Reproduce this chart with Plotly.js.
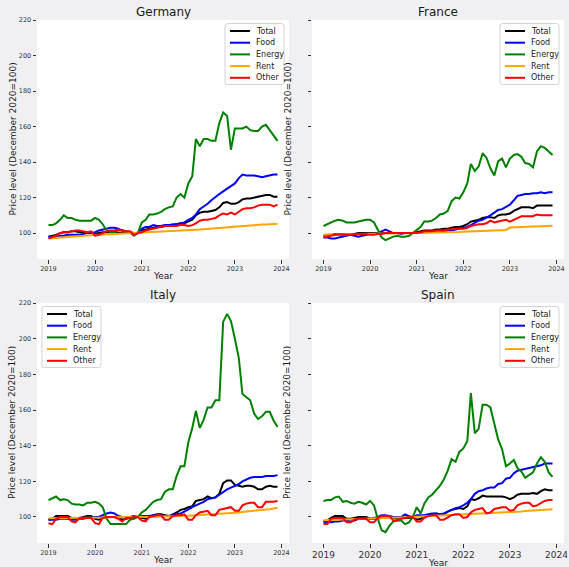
<!DOCTYPE html>
<html>
<head>
<meta charset="utf-8">
<script src="https://cdn.plot.ly/plotly-3.0.1.min.js"></script>
<style>
  html, body { margin: 0; padding: 0; background: #f0f0f2; }
  #chart { width: 569px; height: 567px; }
</style>
</head>
<body>
<div id="chart"></div>
<script>
// Monthly price indices, Jan 2019 - Dec 2023 (December 2020 = 100)
const years = [2019, 2020, 2021, 2022, 2023];
const yearTicks = ['2019', '2020', '2021', '2022', '2023', '2024'];
const seriesNames = ['Total', 'Food', 'Energy', 'Rent', 'Other'];
const seriesColors = ['#000000', '#0000ff', '#008000', '#ffa500', '#ff0000'];
const countries = ['Germany', 'France', 'Italy', 'Spain'];

// Germany
const deTotal = [98, 98.5, 99, 100, 100.5, 100.5, 101, 101, 100.5, 100.5, 100, 100.5,
  99.5, 100, 100.5, 100.5, 100.5, 100.5, 100, 100, 100, 100, 99.5, 100,
  101.5, 102, 102.5, 103, 103.5, 103.5, 104, 104.5, 104.5, 105, 105.5, 105.5,
  106.5, 107.5, 110, 111.5, 112, 112, 112.5, 113, 114.5, 117, 117.5, 116.5,
  116.5, 117.5, 119, 119.5, 119.5, 120, 120.5, 121, 121.5, 121.5, 120.5, 120.5];
const deFood = [98, 98, 98.5, 98.5, 98.5, 99, 99, 99, 99, 99.5, 100, 100,
  100.5, 101.5, 102, 102.5, 103, 103, 102.5, 101.5, 101, 100.5, 100, 100,
  102.5, 103.5, 103.5, 104.5, 104, 104, 104.5, 104.5, 105, 105, 105.5, 106,
  107.5, 108.5, 110.5, 113.5, 115, 116.5, 118.5, 120, 122, 123.5, 125, 126,
  128, 131, 133, 132.5, 132.5, 132.5, 132, 131.5, 132, 132.5, 133, 133];
const deEnergy = [104.5, 104.5, 105.5, 107.5, 110, 108.5, 108.5, 107.5, 107, 107, 107, 107,
  108.5, 107.5, 105, 101.5, 100.5, 100.5, 101.5, 101.5, 101, 100.5, 98.5, 100,
  106, 107.5, 110.5, 110.5, 111, 112, 113.5, 114.5, 115, 120, 122, 120,
  128, 132, 153, 149, 153, 153, 152, 152, 162, 168, 166, 147,
  159, 159, 159, 160, 158, 157.5, 157.5, 160, 161, 158, 155, 152];
const deRent = [97.0, 97.2, 97.4, 97.5, 97.7, 97.9, 98.0, 98.2, 98.3, 98.5, 98.6, 98.8,
  98.9, 99.0, 99.1, 99.2, 99.3, 99.4, 99.5, 99.6, 99.7, 99.8, 99.9, 100.0,
  100.1, 100.2, 100.3, 100.4, 100.5, 100.6, 100.7, 100.8, 100.9, 101.0, 101.1, 101.3,
  101.4, 101.6, 101.8, 102.0, 102.2, 102.4, 102.6, 102.8, 103.0, 103.2, 103.4, 103.6,
  103.7, 103.9, 104.0, 104.2, 104.3, 104.5, 104.6, 104.8, 104.9, 105.0, 105.2, 105.3];
const deOther = [97, 98, 98.5, 100, 100.5, 100.5, 101, 101.5, 101.5, 101, 100.5, 101,
  98.5, 99, 100, 101, 101.5, 101.5, 102, 101.5, 101, 101, 99, 100,
  100.5, 101.5, 102, 102.5, 103, 103.5, 104, 104, 104, 104, 104.5, 104.5,
  104, 104.5, 105.5, 107, 107.5, 107.5, 108, 108.5, 110, 111, 110.5, 111.5,
  110.5, 112, 113.5, 114, 114, 114.5, 115.5, 116, 116, 116, 115, 116];

// France
const frTotal = [98.5, 99, 99, 99.5, 99.5, 99.5, 99.5, 99.5, 99.5, 100, 100, 100,
  100, 100, 100, 100, 100, 100, 100, 100, 100, 100, 100, 100,
  100.5, 101, 101.5, 101.5, 101.5, 102, 102, 102.5, 102.5, 103, 103.5, 103.5,
  104, 105, 106.5, 107, 107.5, 108.5, 109, 109, 108.5, 110, 110.5, 110.5,
  111, 112.5, 113.5, 114.5, 114.5, 114.5, 114, 115.5, 115.5, 115.5, 115.5, 115.5];
const frFood = [97.5, 97.5, 97, 97, 97.5, 98, 98.5, 99, 98.5, 98, 98.5, 99,
  99.5, 99.5, 100, 101, 102, 101, 100, 100, 99.5, 100, 100, 100,
  100, 100, 100.5, 100.5, 101, 101.5, 101.5, 101, 101.5, 101.5, 102, 102.5,
  103, 103.5, 104.5, 106, 107, 107.5, 108.5, 110, 111.5, 113, 113.5, 114.5,
  116, 118.5, 121, 121.5, 122, 122, 122.5, 122.5, 123, 122.5, 123, 123];
const frEnergy = [104, 105, 106, 107, 107.5, 107, 106, 106, 106, 106.5, 107, 107.5,
  107.5, 106, 102, 97.5, 96, 97, 98, 98.5, 98, 98, 98.5, 100,
  101.5, 103.5, 106.5, 106.5, 107, 108.5, 110.5, 111, 112.5, 118, 120, 119.5,
  123, 128, 139, 135, 137.5, 145, 142.5, 136.5, 132.5, 140.5, 142, 137,
  142, 144, 144.5, 143, 139.5, 139, 137, 146, 149, 148, 146, 144];
const frRent = [99.0, 99.1, 99.2, 99.3, 99.3, 99.4, 99.4, 99.5, 99.5, 99.6, 99.6, 99.7,
  99.7, 99.7, 99.8, 99.8, 99.8, 99.8, 99.9, 99.9, 99.9, 99.9, 100.0, 100.0,
  100.1, 100.1, 100.2, 100.2, 100.3, 100.3, 100.4, 100.4, 100.5, 100.5, 100.6, 100.6,
  100.7, 100.8, 100.9, 101.0, 101.1, 101.2, 101.3, 101.4, 101.5, 101.6, 101.7, 101.8,
  103.1, 103.2, 103.3, 103.4, 103.5, 103.6, 103.7, 103.8, 103.9, 104.0, 104.1, 104.2];
const frOther = [97.5, 98, 98.5, 99, 99, 99, 99, 99, 99.5, 99.5, 99.5, 99.5,
  99, 99, 99.5, 99.5, 100, 100, 100, 100, 100, 100, 100, 100,
  100, 100.5, 101, 101, 101, 101.5, 101.5, 101.5, 102, 102, 102.5, 102.5,
  102.5, 103, 104, 104.5, 105, 105, 105.5, 107, 106, 106.5, 107, 107.5,
  106.5, 107.5, 108.5, 109.5, 109.5, 109.5, 109.5, 110.5, 110, 110, 110, 110];

// Italy
const itTotal = [98.5, 99, 100.5, 100.5, 100.5, 100.5, 99.5, 99.5, 99.5, 100, 100.5, 100.5,
  99, 98.5, 99.5, 100, 100, 100, 99.5, 98.5, 99, 99.5, 100, 100,
  99.5, 99, 100, 101, 101.5, 101.5, 101, 100.5, 101.5, 102.5, 104, 104.5,
  105.5, 106, 109, 109.5, 110, 111.5, 110.5, 111, 113, 119, 120.5, 120.5,
  118, 117.5, 117, 117.5, 117.5, 117, 115.5, 115.5, 117, 117.5, 117, 117];
const itFood = [98.5, 98.5, 98.5, 99, 99, 99, 98.5, 98.5, 99, 99, 99.5, 99.5,
  100, 100, 101, 102, 102.5, 102, 100.5, 100, 99.5, 100, 100.5, 100,
  100.5, 100.5, 100.5, 101, 101, 101, 100.5, 100.5, 101, 101.5, 102, 103,
  104.5, 105.5, 106.5, 107.5, 108.5, 110, 110.5, 111, 112.5, 114, 115.5, 116.5,
  117.5, 118.5, 120, 121, 122, 122.5, 122.5, 122.5, 123, 123, 123, 123.5];
const itEnergy = [109.5, 110.5, 111.5, 109.5, 110, 109.5, 107.5, 107, 107, 106.5, 108, 108,
  108.5, 107.5, 105.5, 99, 96, 96, 96, 96, 96, 98.5, 99, 100,
  102.5, 104, 106, 108.5, 109.5, 110, 114, 115.5, 115.5, 123, 128.5, 128.5,
  142, 150, 159.5, 150, 154.5, 161.5, 161.5, 165.5, 165.5, 209.5, 214, 210,
  200, 189, 169, 167, 165.5, 158, 155, 156.5, 159, 159, 154, 150.5];
const itRent = [99.3, 99.3, 99.4, 99.4, 99.4, 99.5, 99.5, 99.5, 99.6, 99.6, 99.6, 99.7,
  99.7, 99.7, 99.7, 99.8, 99.8, 99.8, 99.8, 99.9, 99.9, 99.9, 99.9, 100.0,
  100.0, 100.1, 100.1, 100.2, 100.2, 100.3, 100.3, 100.4, 100.4, 100.5, 100.5, 100.6,
  100.7, 100.8, 100.9, 101.0, 101.1, 101.2, 101.4, 101.5, 101.6, 101.8, 101.9, 102.0,
  102.2, 102.5, 102.8, 103.1, 103.4, 103.6, 103.8, 104.0, 104.2, 104.4, 104.7, 105.2];
const itOther = [96.5, 96, 99, 100, 100, 100, 97.5, 97, 99.5, 99.5, 99.5, 99.5,
  96.5, 96, 99.5, 100, 100, 100, 99, 97.5, 99.5, 99.5, 100, 100,
  98, 97.5, 100, 100.5, 101, 101, 98.5, 98.5, 100.5, 101, 101, 101.5,
  98.5, 98.5, 101, 102.5, 103, 103.5, 101, 101, 104, 104.5, 105, 105.5,
  103.5, 103.5, 106.5, 107.5, 108, 108, 105.5, 105.5, 108.5, 108.5, 108.5, 109];

// Spain
const esTotal = [97.5, 98, 99.5, 100.5, 100.5, 100.5, 99, 99, 99.5, 100, 100, 100,
  99, 99, 99, 99.5, 100, 100, 99.5, 99, 99.5, 99.5, 99.5, 100,
  98.5, 99, 100.5, 101, 101.5, 102, 101.5, 101.5, 103, 104, 104.5, 105,
  104.5, 106, 110, 109.5, 110.5, 112, 111.5, 111.5, 111.5, 111.5, 111.5, 111,
  110, 111, 112.5, 113, 113, 113, 113.5, 113, 114.5, 115.5, 115, 115];
const esFood = [97, 97, 97, 97.5, 97.5, 98, 98, 97.5, 98, 99, 99, 99,
  99, 99.5, 100, 101, 101, 100.5, 100, 100, 100, 101.5, 100.5, 100,
  101, 101, 101, 101.5, 102, 102, 101.5, 102, 103, 104, 105, 105.5,
  106.5, 108, 110, 113, 114.5, 115, 116, 116.5, 116.5, 118.5, 119, 121.5,
  122, 124.5, 126, 126.5, 127, 127.5, 128, 128.5, 129, 130, 130, 130];
const esEnergy = [109, 109.5, 109.5, 111, 111.5, 108.5, 109, 108, 107.5, 108.5, 108, 107,
  109, 106.5, 99, 92.5, 91.5, 95, 97.5, 98, 98, 96, 97, 100,
  105.5, 102, 107.5, 111, 112.5, 115, 117.5, 121, 126, 132.5, 131, 136.5,
  138.5, 142.5, 169.5, 147, 149.5, 163, 163, 161.5, 152, 143.5, 138, 128.5,
  130, 132, 127.5, 125.5, 122, 123.5, 125, 130, 133.5, 131, 125, 122.5];
const esRent = [98.2, 98.3, 98.4, 98.5, 98.6, 98.7, 98.8, 98.9, 99.0, 99.1, 99.1, 99.2,
  99.3, 99.3, 99.4, 99.4, 99.5, 99.5, 99.6, 99.7, 99.7, 99.8, 99.9, 100.0,
  100.0, 100.1, 100.2, 100.3, 100.4, 100.5, 100.6, 100.7, 100.8, 100.9, 101.0, 101.1,
  101.2, 101.3, 101.4, 101.5, 101.6, 101.7, 101.8, 101.9, 102.0, 102.1, 102.2, 102.4,
  102.5, 102.7, 102.9, 103.1, 103.3, 103.5, 103.7, 103.8, 104.0, 104.1, 104.3, 104.4];
const esOther = [96, 96, 99, 99.5, 99.5, 99.5, 97, 97, 98.5, 99, 99, 99,
  97, 97, 99.5, 100.5, 100.5, 100.5, 98, 98, 99, 99.5, 100, 100,
  97.5, 97.5, 99.5, 100.5, 101, 101, 98.5, 98.5, 100, 101, 101.5, 101.5,
  99.5, 100, 102.5, 104, 104.5, 105, 102, 102.5, 104.5, 105, 105.5, 105.5,
  103.5, 104, 106.5, 107.5, 108, 108, 106, 106.5, 108, 109, 109.5, 109.5];

const countrySeries = [
  [deTotal, deFood, deEnergy, deRent, deOther],
  [frTotal, frFood, frEnergy, frRent, frOther],
  [itTotal, itFood, itEnergy, itRent, itOther],
  [esTotal, esFood, esEnergy, esRent, esOther]
];

// Month dates for the x axis
const months = [];
years.forEach(y => {
  for (let m = 1; m <= 12; m++) months.push(y + '-' + String(m).padStart(2, '0') + '-01');
});

// Figure geometry (pixels)
const W = 569, H = 567;
const panels = [
  { x0: 37,  x1: 289, y0: 20,  y1: 259, legend: 'right', tickSize: 6.5, yTitle: 276 },
  { x0: 312, x1: 564, y0: 20,  y1: 259, legend: 'right', tickSize: 6.5, yTitle: 276 },
  { x0: 37,  x1: 289, y0: 303, y1: 543, legend: 'left',  tickSize: 6.5, yTitle: 560 },
  { x0: 312, x1: 564, y0: 303, y1: 543, legend: 'right', tickSize: 9,   yTitle: 562.5 }
];
const px = v => v / W;
const py = v => 1 - v / H;

const FONT = 'DejaVu Sans, Liberation Sans, sans-serif';
const TEXT = '#1a1a1a';
const TICK = '#333333';

const traces = [];
const layout = {
  width: W, height: H,
  margin: { l: 0, r: 0, t: 0, b: 0 },
  paper_bgcolor: '#f0f0f2',
  plot_bgcolor: '#ffffff',
  showlegend: false,
  font: { family: FONT, color: TEXT },
  shapes: [],
  annotations: []
};

panels.forEach((p, k) => {
  const n = k === 0 ? '' : String(k + 1);
  const xa = 'xaxis' + n, ya = 'yaxis' + n;
  layout[xa] = {
    type: 'date',
    domain: [px(p.x0), px(p.x1)],
    anchor: 'y' + n,
    range: ['2018-10-03', '2024-02-29'],
    tickvals: yearTicks.map(t => t + '-01-01'),
    ticktext: yearTicks,
    ticks: 'outside', ticklen: 3.5, tickwidth: 1, tickcolor: TICK,
    tickfont: { size: p.tickSize, color: TICK, family: FONT },
    showgrid: false, zeroline: false, showline: false
  };
  layout[ya] = {
    domain: [py(p.y1), py(p.y0)],
    anchor: 'x' + n,
    range: [85.4, 220.1],
    tickvals: [100, 120, 140, 160, 180, 200, 220],
    showticklabels: k % 2 === 0,
    ticks: 'outside', ticklen: 3.5, tickwidth: 1, tickcolor: TICK,
    tickfont: { size: 6.5, color: TICK, family: FONT },
    showgrid: false, zeroline: false, showline: false
  };

  countrySeries[k].forEach((vals, s) => {
    traces.push({
      type: 'scatter', mode: 'lines',
      x: months, y: vals, name: seriesNames[s],
      xaxis: 'x' + n, yaxis: 'y' + n,
      line: { color: seriesColors[s], width: 2 },
      hoverinfo: 'skip'
    });
  });

  // Panel title
  layout.annotations.push({
    text: countries[k], xref: 'paper', yref: 'paper',
    x: px((p.x0 + p.x1) / 2), y: py(p.y0 - 8), xanchor: 'center', yanchor: 'middle',
    showarrow: false, font: { size: 12, color: TEXT, family: FONT }
  });
  // Axis titles
  layout.annotations.push({
    text: 'Year', xref: 'paper', yref: 'paper',
    x: px((p.x0 + p.x1) / 2), y: py(p.yTitle), xanchor: 'center', yanchor: 'middle',
    showarrow: false, font: { size: 9, color: TEXT, family: FONT }
  });
  layout.annotations.push({
    text: 'Price level (December 2020=100)', xref: 'paper', yref: 'paper',
    x: px(p.x0 - 25), y: py((p.y0 + p.y1) / 2), xanchor: 'center', yanchor: 'middle',
    textangle: -90, showarrow: false, font: { size: 9, color: TEXT, family: FONT }
  });

  // Legend box
  const bw = 59, bh = 61, r = 2.5;
  const bx0 = p.legend === 'right' ? p.x1 - 5 - bw : p.x0 + 5;
  const by0 = p.y0 + 3.5;
  const bx1 = bx0 + bw, by1 = by0 + bh;
  const P = (x, y) => px(x) + ',' + py(y);
  const path = 'M ' + P(bx0 + r, by0) + ' L ' + P(bx1 - r, by0) +
    ' Q ' + P(bx1, by0) + ' ' + P(bx1, by0 + r) +
    ' L ' + P(bx1, by1 - r) + ' Q ' + P(bx1, by1) + ' ' + P(bx1 - r, by1) +
    ' L ' + P(bx0 + r, by1) + ' Q ' + P(bx0, by1) + ' ' + P(bx0, by1 - r) +
    ' L ' + P(bx0, by0 + r) + ' Q ' + P(bx0, by0) + ' ' + P(bx0 + r, by0) + ' Z';
  layout.shapes.push({
    type: 'path', path: path, xref: 'paper', yref: 'paper', layer: 'above',
    fillcolor: 'rgba(255,255,255,0.8)', line: { color: '#d4d4d4', width: 1 }
  });
  seriesNames.forEach((name, s) => {
    const cy = by0 + 7.5 + s * 11.7;
    layout.shapes.push({
      type: 'line', xref: 'paper', yref: 'paper', layer: 'above',
      x0: px(bx0 + 5), x1: px(bx0 + 25), y0: py(cy), y1: py(cy),
      line: { color: seriesColors[s], width: 2 }
    });
    layout.annotations.push({
      text: name, xref: 'paper', yref: 'paper',
      x: px(bx0 + 29), y: py(cy), xanchor: 'left', yanchor: 'middle',
      showarrow: false, font: { size: 8, color: TEXT, family: FONT }
    });
  });
});

Plotly.newPlot('chart', traces, layout, { staticPlot: true, displayModeBar: false });
</script>
</body>
</html>
